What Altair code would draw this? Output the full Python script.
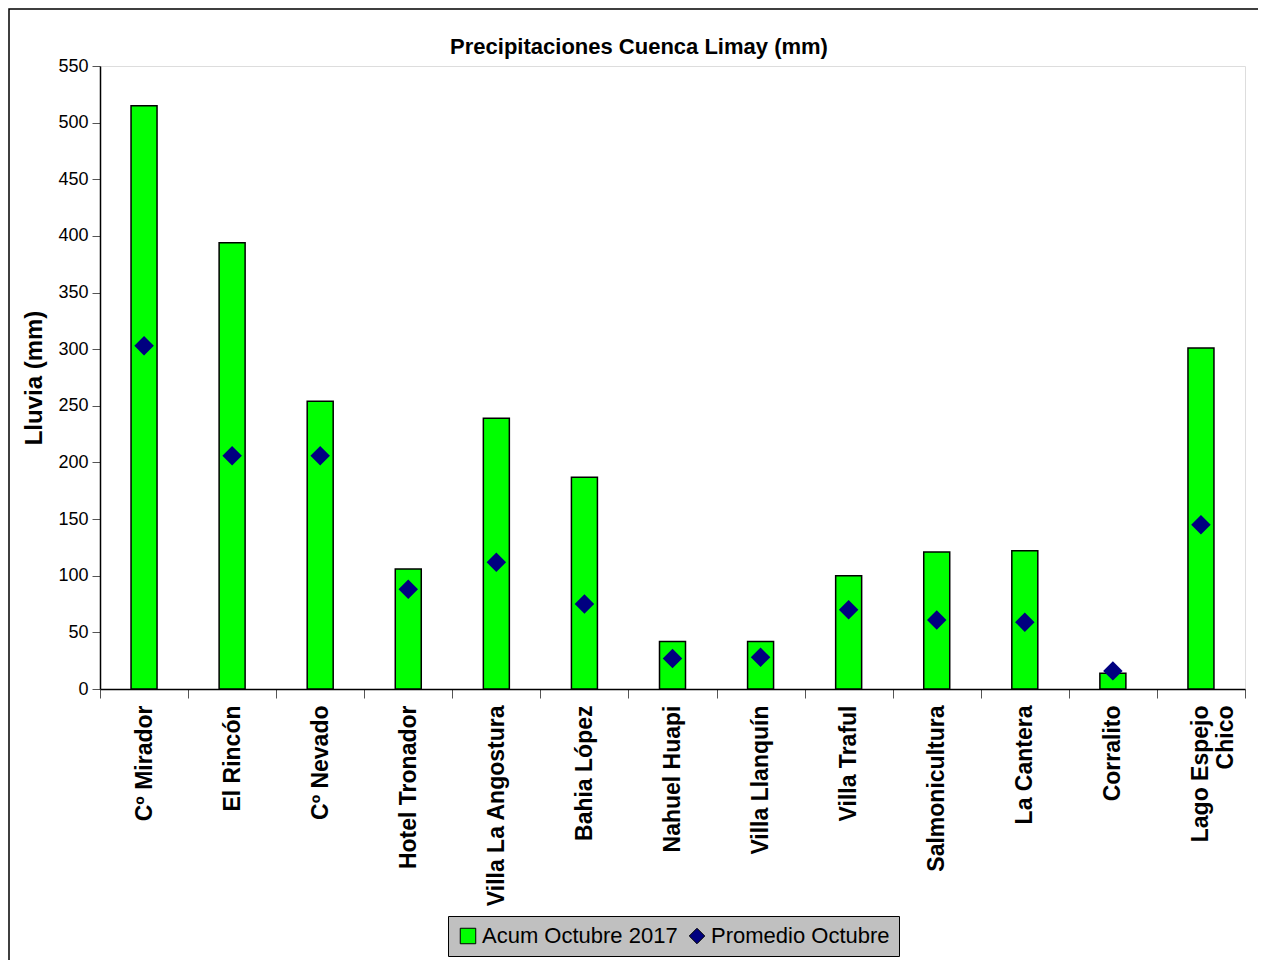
import altair as alt
import pandas as pd

stations = ["Cº Mirador", "El Rincón", "Cº Nevado", "Hotel Tronador", "Villa La Angostura",
            "Bahia López", "Nahuel Huapi", "Villa Llanquín", "Villa Traful", "Salmonicultura",
            "La Cantera", "Corralito", "Lago Espejo Chico"]
acum_oct_2017 = [515, 394, 254, 106, 239, 187, 42, 42, 100, 121, 122, 14, 301]
promedio_oct = [303, 206, 206, 88, 112, 75, 27, 28, 70, 61, 59, 16, 145]
series_names = ["Acum Octubre 2017", "Promedio Octubre"]
y_ticks = list(range(0, 551, 50))
chart_title = "Precipitaciones Cuenca Limay (mm)"

rows = []
for s, a, p in zip(stations, acum_oct_2017, promedio_oct):
    rows.append({"station": s, "series": series_names[0], "value": a})
    rows.append({"station": s, "series": series_names[1], "value": p})
df = pd.DataFrame(rows)

FONT = "Liberation Sans"

x_enc = alt.X(
    "station:N",
    sort=stations,
    scale=alt.Scale(paddingInner=0, paddingOuter=0),
    axis=alt.Axis(
        title=None,
        labelAngle=-90,
        labelFont=FONT,
        labelFontSize=23,
        labelFontWeight="bold",
        labelColor="black",
        labelPadding=7,
        labelLimit=400,
        tickBand="extent",
        tickSize=9,
        tickColor="#555555",
        domainColor="black",
        domainWidth=1.5,
        labelExpr="datum.label == 'Lago Espejo Chico' ? ['Lago Espejo', 'Chico'] : datum.label",
    ),
)
y_enc = alt.Y(
    "value:Q",
    scale=alt.Scale(domain=[0, 550], nice=False),
    axis=alt.Axis(
        title="Lluvia (mm)",
        values=y_ticks,
        grid=False,
        labelFont=FONT,
        labelFontSize=18,
        labelColor="black",
        labelPadding=4,
        tickSize=8,
        tickColor="#555555",
        domainColor="black",
        domainWidth=1.5,
        titleFont=FONT,
        titleFontSize=24,
        titleFontWeight="bold",
        titleColor="black",
        titlePadding=11,
    ),
)

legend_props = dict(
    orient="none",
    legendX=348,
    legendY=850,
    direction="horizontal",
    fillColor="#C0C0C0",
    strokeColor="black",
    padding=9,
    labelFont=FONT,
    labelFontSize=22,
    labelColor="black",
    labelLimit=400,
    labelOffset=3,
    columnPadding=8,
    symbolSize=240,
    symbolStrokeColor="black",
    symbolStrokeWidth=1,
)

color_enc = alt.Color(
    "series:N",
    title=None,
    scale=alt.Scale(domain=series_names, range=["#00FF00", "#000080"]),
    legend=alt.Legend(**legend_props),
)
shape_enc = alt.Shape(
    "series:N",
    title=None,
    scale=alt.Scale(domain=series_names, range=["square", "diamond"]),
    legend=alt.Legend(**legend_props),
)

frame = alt.Chart(alt.Data(values=[{"k": 1}])).mark_rect(
    fill="white", fillOpacity=0, stroke="black", strokeWidth=1.5
).encode(
    x=alt.value(-91), x2=alt.value(1165), y=alt.value(-57), y2=alt.value(930)
)

title_mark = alt.Chart(alt.Data(values=[{"t": chart_title}])).mark_text(
    font=FONT, fontSize=22, fontWeight="bold", color="black",
    align="center", baseline="alphabetic"
).encode(
    text="t:N", x=alt.value(539), y=alt.value(-12)
)

bars = alt.Chart(df).transform_filter(
    alt.datum.series == series_names[0]
).mark_bar(size=26, stroke="black", strokeWidth=1.5).encode(
    x=x_enc, y=y_enc, color=color_enc, shape=shape_enc
)

points = alt.Chart(df).transform_filter(
    alt.datum.series == series_names[1]
).mark_point(filled=True, size=380, opacity=1).encode(
    x=x_enc, y=y_enc, color=color_enc, shape=shape_enc
)

chart = alt.layer(frame, title_mark, bars, points).properties(
    width=1145,
    height=623,
    autosize=alt.AutoSizeParams(type="none"),
    padding={"left": 92, "top": 58, "right": 13, "bottom": 271},
).configure_view(
    stroke="#8c8c8c", strokeWidth=2
).configure(background="white")

chart.save("out.html", embed_options={"renderer": "svg", "actions": False})
